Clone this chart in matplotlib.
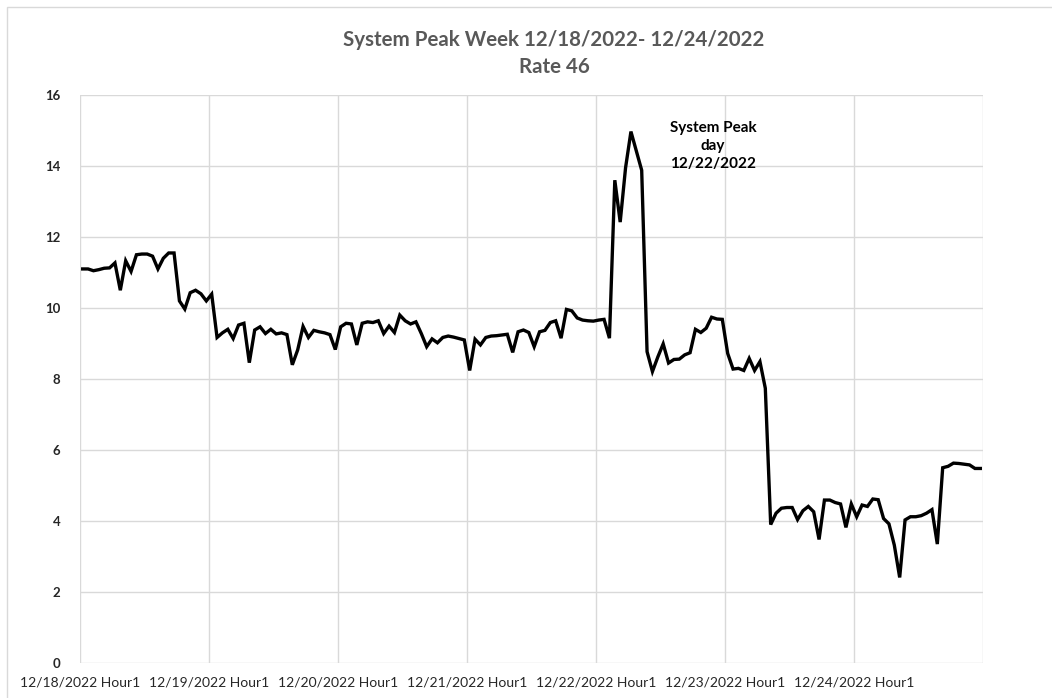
import numpy as np
import matplotlib.pyplot as plt
from matplotlib.patches import Rectangle

# hourly system load, one list per day (24 hours each)
day_1218 = [11.10, 11.10, 11.05, 11.08, 11.12, 11.13, 11.27, 10.50, 11.33, 11.03, 11.50, 11.52,
            11.52, 11.46, 11.10, 11.40, 11.55, 11.55, 10.20, 9.97, 10.43, 10.50, 10.40, 10.20]
day_1219 = [10.39, 9.17, 9.30, 9.40, 9.14, 9.52, 9.57, 8.46, 9.38, 9.47, 9.28, 9.40,
            9.27, 9.30, 9.25, 8.40, 8.82, 9.48, 9.17, 9.37, 9.33, 9.30, 9.25, 8.83]
day_1220 = [9.47, 9.57, 9.55, 8.96, 9.57, 9.61, 9.59, 9.64, 9.28, 9.49, 9.31, 9.80,
            9.64, 9.55, 9.61, 9.28, 8.91, 9.13, 9.02, 9.17, 9.21, 9.18, 9.14, 9.10]
day_1221 = [8.24, 9.12, 8.96, 9.17, 9.21, 9.22, 9.24, 9.26, 8.75, 9.33, 9.38, 9.31,
            8.91, 9.33, 9.37, 9.59, 9.64, 9.15, 9.96, 9.92, 9.72, 9.66, 9.64, 9.63]
day_1222 = [9.66, 9.68, 9.15, 13.60, 12.42, 13.95, 14.97, 14.42, 13.88, 8.77, 8.21, 8.62,
            8.99, 8.45, 8.55, 8.56, 8.68, 8.74, 9.40, 9.31, 9.43, 9.74, 9.69, 9.68]
day_1223 = [8.72, 8.28, 8.30, 8.24, 8.58, 8.24, 8.49, 7.74, 3.90, 4.22, 4.36, 4.38,
            4.38, 4.04, 4.29, 4.41, 4.26, 3.48, 4.59, 4.59, 4.52, 4.48, 3.82, 4.48]
day_1224 = [4.12, 4.45, 4.41, 4.62, 4.60, 4.07, 3.92, 3.32, 2.41, 4.03, 4.12, 4.12,
            4.15, 4.22, 4.32, 3.35, 5.50, 5.54, 5.63, 5.62, 5.60, 5.58, 5.48, 5.48]

days = ['12/18/2022', '12/19/2022', '12/20/2022', '12/21/2022',
        '12/22/2022', '12/23/2022', '12/24/2022']
tick_labels = [d + ' Hour1' for d in days]

load = np.array(day_1218 + day_1219 + day_1220 + day_1221 + day_1222 + day_1223 + day_1224)
hours = np.arange(len(load)) + 0.5

fig = plt.figure(figsize=(10.52, 6.98), dpi=100)
ax = fig.add_axes([80 / 1052, 1 - 663 / 698, 903 / 1052, 568 / 698])

ax.plot(hours, load, color='black', lw=2.4, solid_joinstyle='miter')

ax.set_xlim(0, 24 * len(days))
ax.set_ylim(0, 16)
ax.set_xticks(np.arange(0, 24 * len(days) + 1, 24))
ax.set_xticklabels(tick_labels + [''])
ax.set_yticks(np.arange(0, 17, 2))
ax.grid(True, color='#d9d9d9', lw=1)
ax.set_axisbelow(True)
for s in ax.spines.values():
    s.set_visible(False)
ax.tick_params(length=0)
ax.tick_params(axis='x', pad=10, labelsize=10, labelcolor='#262626')
ax.tick_params(axis='y', pad=14, labelsize=9.5, labelcolor='#262626')
for lab in ax.get_xticklabels():
    lab.set_family('Lato')
for lab in ax.get_yticklabels():
    lab.set_family('Lato')
    lab.set_fontweight('bold')

fig.text(554 / 1052, 1 - 40 / 698, 'System Peak Week 12/18/2022- 12/24/2022',
         ha='center', va='center', fontsize=14.8, fontweight='bold', color='#595959', family='Lato')
fig.text(554 / 1052, 1 - 67 / 698, 'Rate 46',
         ha='center', va='center', fontsize=14.8, fontweight='bold', color='#595959', family='Lato')

ax.text(713 / 1052, 1 - 146 / 698, 'System Peak\nday\n12/22/2022', transform=fig.transFigure,
        ha='center', va='center', fontsize=11, fontweight='bold', family='Lato',
        linespacing=1.35, color='black')

# chart area frame
fig.patches.append(Rectangle((7 / 1052, -0.01), 1.02, 1 - 7 / 698 + 0.01, transform=fig.transFigure,
                             fill=False, edgecolor='#d9d9d9', lw=1))

fig.savefig('out.png', dpi=100)
